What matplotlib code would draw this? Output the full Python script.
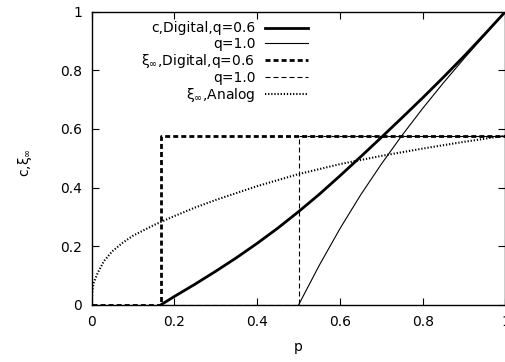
import numpy as np
import matplotlib
matplotlib.use("Agg")
import matplotlib.pyplot as plt

# values
p_c_dig06 = [0.1667, 0.2, 0.25, 0.3, 0.35, 0.4, 0.45, 0.5, 0.55, 0.6, 0.65,
             0.7, 0.75, 0.8, 0.85, 0.9, 0.95, 1.0]
c_dig06 = [0.0, 0.029, 0.071, 0.115, 0.161, 0.21, 0.262, 0.318, 0.377, 0.44,
           0.505, 0.571, 0.638, 0.706, 0.776, 0.848, 0.923, 1.0]

p_c_dig10 = [0.5, 0.55, 0.6, 0.65, 0.7, 0.75, 0.8, 0.85, 0.9, 0.95, 1.0]
c_dig10 = [0.0, 0.135, 0.26, 0.375, 0.48, 0.578, 0.67, 0.757, 0.84, 0.92, 1.0]

p_xi_dig06 = [0.0, 0.1667, 0.1667, 1.0]
xi_dig06 = [0.0, 0.0, 0.577, 0.577]

p_xi_dig10 = [0.0, 0.5, 0.5, 1.0]
xi_dig10 = [0.0, 0.0, 0.577, 0.577]

p_xi_ana = [0.0, 0.002, 0.005, 0.015, 0.03, 0.05, 0.075, 0.1, 0.15, 0.2, 0.25,
            0.3, 0.4, 0.5, 0.6, 0.7, 0.8, 0.9, 1.0]
xi_ana = [0.0, 0.05, 0.075, 0.11, 0.15, 0.183, 0.212, 0.236, 0.272, 0.303, 0.332,
          0.358, 0.405, 0.446, 0.48, 0.508, 0.533, 0.556, 0.577]

plt.rcParams['font.family'] = ['DejaVu Sans']
plt.rcParams['font.size'] = 10

fig = plt.figure(figsize=(5.06, 3.62), dpi=100)
ax = fig.add_axes([0.181, 0.1575, 0.818, 0.8107])

ax.plot(p_c_dig06, c_dig06, color='black', lw=2.0, label='c,Digital,q=0.6')
ax.plot(p_c_dig10, c_dig10, color='black', lw=0.8, label='q=1.0')
ax.plot(p_xi_dig06, xi_dig06, color='black', lw=2.0, ls=(0, (1.8, 1.1)),
        label='ξ$_{\\infty}$,Digital,q=0.6')
ax.plot(p_xi_dig10, xi_dig10, color='black', lw=0.8, ls=(0, (4.5, 2.7)),
        label='q=1.0')
ax.plot(p_xi_ana, xi_ana, color='black', lw=1.5, ls=(0, (0.6, 0.9)),
        label='ξ$_{\\infty}$,Analog')

ax.set_xlim(0, 1)
ax.set_ylim(0, 1)
ax.set_xticks([0, 0.2, 0.4, 0.6, 0.8, 1.0])
ax.set_xticklabels(['0', '0.2', '0.4', '0.6', '0.8', '1'])
ax.set_yticks([0, 0.2, 0.4, 0.6, 0.8, 1.0])
ax.set_yticklabels(['0', '0.2', '0.4', '0.6', '0.8', '1'])
ax.tick_params(direction='in', length=5, width=0.8, top=True, right=True, pad=7)
for s in ax.spines.values():
    s.set_linewidth(1.0)

ax.set_xlabel('p')
ax.xaxis.set_label_coords(0.5, -0.12)
ax.set_ylabel('c,ξ$_{\\infty}$')
ax.yaxis.set_label_coords(-0.14, 0.484)

leg = ax.legend(loc='upper right', bbox_to_anchor=(0.523, 0.966), frameon=False,
                markerfirst=False, handlelength=3.1, handletextpad=0.7,
                labelspacing=0.08, borderpad=0, borderaxespad=0)

fig.savefig('out.png', dpi=100)
